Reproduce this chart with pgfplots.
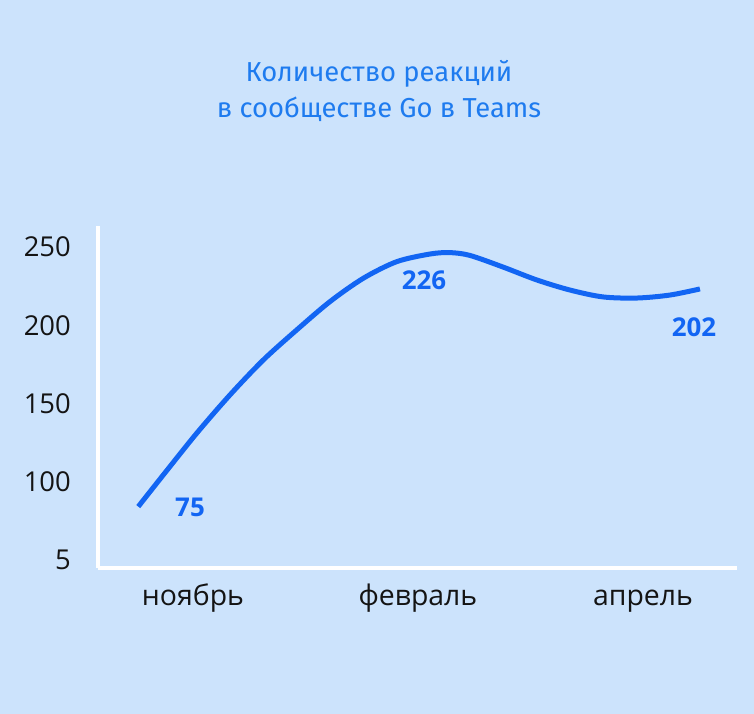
\documentclass[border=0pt]{standalone}
\usepackage{pgfplots}
\pgfplotsset{compat=1.18}
\usepackage{fontspec}
\setmainfont{Open Sans}
\newfontfamily\titlefont{Fira Sans}
\definecolor{bg}{RGB}{204,227,252}
\definecolor{linec}{RGB}{18,101,243}
\definecolor{titlec}{RGB}{30,123,239}
\definecolor{tickc}{RGB}{20,20,20}
\begin{document}
\begin{tikzpicture}[x=1bp,y=1bp]
\fill[bg] (0,0) rectangle (754,714);
\node[anchor=base, font=\titlefont\fontsize{27.5}{30}\selectfont, text=titlec, inner sep=0pt] at (379,632) {Количество реакций};
\node[anchor=base, font=\titlefont\fontsize{27.5}{30}\selectfont, text=titlec, inner sep=0pt] at (379,596) {в сообществе Go в Teams};
\begin{axis}[
  at={(98bp,146bp)}, anchor=south west,
  scale only axis, width=639bp, height=342bp,
  xmin=-0.422, xmax=2.418, ymin=45, ymax=263.4,
  axis x line*=bottom, axis y line*=left,
  axis line style={white, line width=3.5bp},
  major tick length=0pt,
  xtick={0,1,2}, xticklabels={ноябрь,февраль,апрель},
  ytick={50,100,150,200,250}, yticklabels={5,100,150,200,250},
  xticklabel style={anchor=base, inner sep=0pt, yshift=-38bp, text=tickc, font=\fontsize{28.5}{30}\selectfont},
  yticklabel style={anchor=east, inner sep=0pt, xshift=-27bp, text=tickc, font=\fontsize{27.5}{30}\selectfont},
  /pgf/number format/assume math mode=true,
  clip=false,
]
\addplot[linec, line width=5bp, smooth, line cap=butt] coordinates {
(-0.2431,84.2) (-0.132,104.4) (0.0164,131.0) (0.1644,155.5) (0.3124,177.8) (0.4609,197.0) (0.6089,215.1) (0.7569,230.0) (0.9053,240.6) (1.0533,245.5) (1.1422,246.4) (1.2311,244.6) (1.3778,237.2) (1.5289,228.9) (1.6756,222.5) (1.8222,218.1) (1.9733,217.4) (2.12,219.3) (2.2533,223.2)
};
\node[text=linec, font=\bfseries\fontsize{26}{28}\selectfont, inner sep=0pt] at (axis cs:-0.013,84) {75};
\node[text=linec, font=\bfseries\fontsize{26}{28}\selectfont, inner sep=0pt] at (axis cs:1.027,228.9) {226};
\node[text=linec, font=\bfseries\fontsize{26}{28}\selectfont, inner sep=0pt] at (axis cs:2.227,198.9) {202};
\end{axis}
\pgfresetboundingbox
\useasboundingbox (0,0) rectangle (754,714);
\end{tikzpicture}
\end{document}
